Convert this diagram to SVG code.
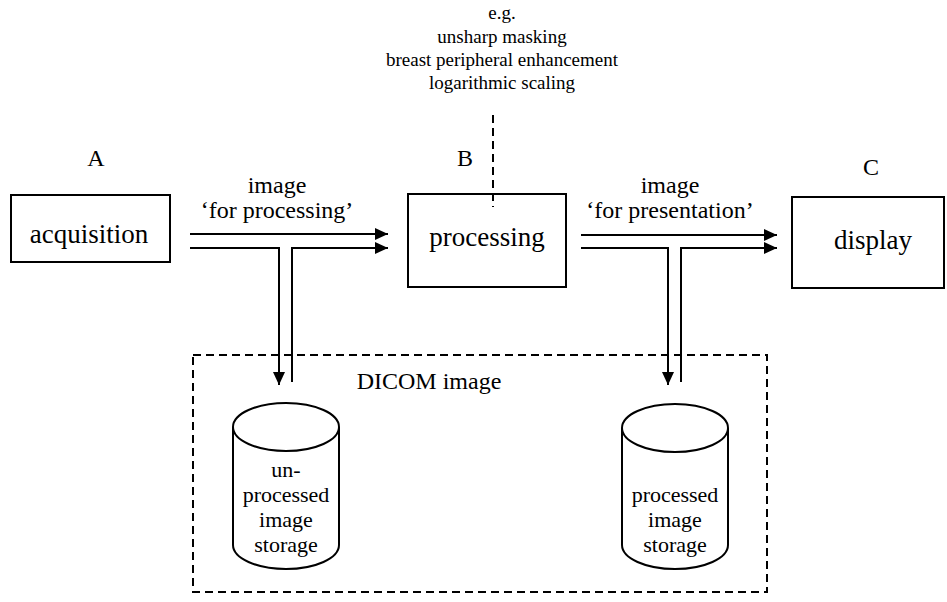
<svg xmlns="http://www.w3.org/2000/svg" width="947" height="602" viewBox="0 0 947 602">
<style>
text{font-family:"Liberation Serif","Times New Roman",serif;fill:#000;text-anchor:middle}
.box{fill:#fff;stroke:#000;stroke-width:2}
.ln{fill:none;stroke:#000;stroke-width:2}
.dash{fill:none;stroke:#000;stroke-width:2;stroke-dasharray:8 5}
.big{font-size:27px}
.mid{font-size:24px}
.cyl{font-size:22px}
.sm{font-size:19px}
</style>
<defs>
<marker id="ah" markerUnits="userSpaceOnUse" markerWidth="14" markerHeight="12" refX="13" refY="6" orient="auto">
<path d="M0,0 L13,6 L0,12 Z" fill="#000"/>
</marker>
</defs>
<rect width="947" height="602" fill="#fff"/>
<g id="note">
<text class="sm" x="502" y="19">e.g.</text>
<text class="sm" x="502" y="43">unsharp masking</text>
<text class="sm" x="502" y="66">breast peripheral enhancement</text>
<text class="sm" x="502" y="89">logarithmic scaling</text>
</g>
<g id="dicom">
<rect class="dash" x="193" y="355" width="574" height="237"/>
<text class="mid" x="429" y="389">DICOM image</text>
</g>
<g id="acquisition">
<text class="mid" x="96" y="166">A</text>
<rect class="box" x="11" y="195" width="159" height="67"/>
<text class="big" x="89" y="243">acquisition</text>
</g>
<g id="processing">
<text class="mid" x="465" y="166">B</text>
<rect class="box" x="408" y="194" width="158" height="93"/>
<text class="big" x="487" y="246">processing</text>
</g>
<g id="display">
<text class="mid" x="871" y="175">C</text>
<rect class="box" x="792" y="197" width="152" height="91"/>
<text class="big" x="873" y="249">display</text>
</g>
<g id="unprocessed-storage">
<path class="box" d="M233,427 L233,545 A53,24 0 0 0 339,545 L339,427"/>
<ellipse class="box" cx="286" cy="427" rx="53" ry="24"/>
<text class="cyl" x="286" y="477">un-</text>
<text class="cyl" x="286" y="502">processed</text>
<text class="cyl" x="286" y="527">image</text>
<text class="cyl" x="286" y="552">storage</text>
</g>
<g id="processed-storage">
<path class="box" d="M622,428 L622,545 A53,24 0 0 0 728,545 L728,428"/>
<ellipse class="box" cx="675" cy="428" rx="53" ry="24"/>
<text class="cyl" x="675" y="502">processed</text>
<text class="cyl" x="675" y="527">image</text>
<text class="cyl" x="675" y="552">storage</text>
</g>
<g id="connectors">
<text class="mid" x="277" y="193">image</text>
<text class="mid" x="277" y="218">‘for processing’</text>
<text class="mid" x="670" y="193">image</text>
<text class="mid" x="670" y="218">‘for presentation’</text>
<line class="ln" x1="190" y1="234" x2="388" y2="234" marker-end="url(#ah)"/>
<polyline class="ln" points="190,248 279,248 279,385" marker-end="url(#ah)"/>
<polyline class="ln" points="292,382 292,248 388,248" marker-end="url(#ah)"/>
<line class="ln" x1="581" y1="235" x2="777" y2="235" marker-end="url(#ah)"/>
<polyline class="ln" points="581,248 668,248 668,385" marker-end="url(#ah)"/>
<polyline class="ln" points="681,382 681,248 777,248" marker-end="url(#ah)"/>
<line class="dash" x1="493" y1="115" x2="493" y2="207"/>
</g>
</svg>
